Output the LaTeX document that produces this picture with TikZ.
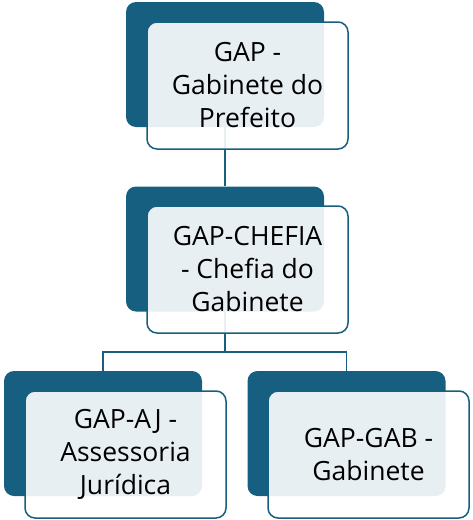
\documentclass[tikz,border=0pt]{standalone}
\usepackage{fontspec}
\setmainfont{Open Sans}
\usepackage{tikz}
\usetikzlibrary{positioning,calc,backgrounds}
\definecolor{orgblue}{RGB}{23,95,128}
\tikzset{
  backbox/.style={rectangle, rounded corners=10pt, draw=none, fill=orgblue, minimum width=198pt, minimum height=125pt},
  frontbox/.style={rectangle, rounded corners=10pt, draw=orgblue, line width=1.5pt, fill=white, fill opacity=.9, text opacity=1, minimum width=201pt, minimum height=127pt, align=center, font=\fontsize{26.5}{33}\selectfont},
  link/.style={draw=orgblue, line width=1.8pt}
}
\begin{document}
\begin{tikzpicture}[x=1pt,y=-1pt]
  \useasboundingbox (0,0) rectangle (472,520);
  % back shapes
  \node[backbox] (gapB) at (225,64.5) {};
  \node[backbox] (chefB) at (225,249) {};
  \node[backbox] (ajB) at (103,433.5) {};
  \node[backbox] (gabB) at (346.5,433.5) {};

  % connectors
  \begin{scope}[on background layer]
    \draw[link] (gapB.south) -- (chefB.north);
    \draw[link] (chefB.south) -- ++(0,40) coordinate (split);
    \draw[link] (split) -| (ajB.north);
    \draw[link] (split) -| (gabB.north);
  \end{scope}

  % front shapes with text
  \node[frontbox] (gapF) at (247.5,85.5) {GAP -\\Gabinete do\\Prefeito};
  \node[frontbox] (chefF) at (247.5,269.5) {GAP-CHEFIA\\- Chefia do\\Gabinete};
  \node[frontbox] (ajF) at (125.5,454.5) {GAP-AJ -\\Assessoria\\Jurídica};
  \node[frontbox] (gabF) at (368.5,454.5) {GAP-GAB -\\Gabinete};
\end{tikzpicture}
\end{document}
